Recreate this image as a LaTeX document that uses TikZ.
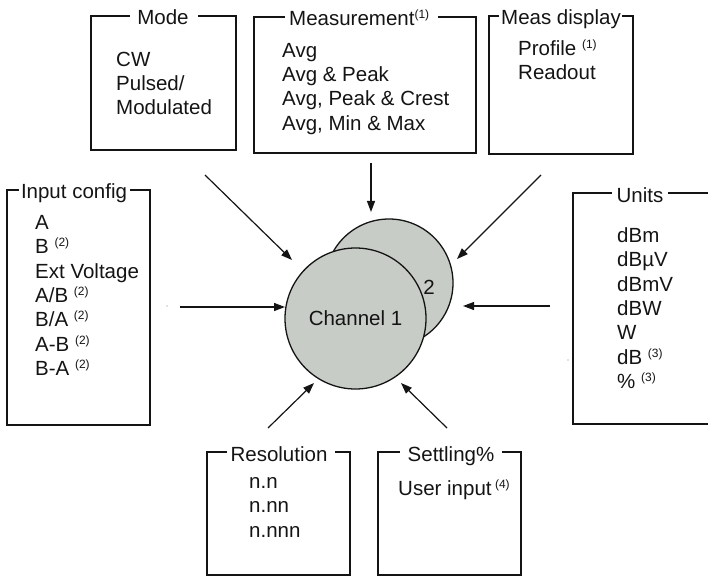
\documentclass[tikz,border=0pt]{standalone}
\usepackage{fontspec}
\setmainfont{Liberation Sans}
\usetikzlibrary{arrows.meta}
\definecolor{chfill}{RGB}{200,204,198}
\definecolor{ink}{RGB}{20,20,20}
\newcommand\fnref[1]{\raisebox{7pt}{\fontsize{12}{12}\selectfont(#1)}}
\newcommand\firstline{\rule{0pt}{20pt}}
\begin{document}
\begin{tikzpicture}[x=1pt,y=-1pt,
  frame/.style={draw=ink, line width=1.4pt, line join=miter},
  ttl/.style={font=\fontsize{20.5}{24}\selectfont, text=ink, inner sep=0pt, anchor=base},
  body/.style={font=\fontsize{20.5}{24.4}\selectfont, text=ink, inner sep=0pt, anchor=north west, align=left},
  arr/.style={draw=ink, line width=1.2pt, -{Triangle[length=11pt,width=8pt]}},
  chan/.style={circle, draw=ink, line width=1.3pt, fill=chfill, inner sep=0pt, font=\fontsize{20.5}{24}\selectfont, text=ink}
]
\useasboundingbox (0,0) rectangle (708,577);

% channel circles
\node[chan, minimum size=128pt] (ch2) at (389,283) {};
\node[chan, minimum size=141pt] (ch1) at (355.5,318.5) {Channel 1};
\node[ttl, anchor=center] (two) at (429,287) {2};

% Mode
\draw[frame] (130,16) -- (91,16) -- (91,150) -- (236,150) -- (236,16) -- (198,16);
\node[ttl] (tmode) at (163,25) {Mode};
\node[body] (bmode) at (116,46) {\firstline CW\\Pulsed/\\Modulated};

% Measurement
\draw[frame] (285,17) -- (254,17) -- (254,153) -- (476,153) -- (476,17) -- (438,17);
\node[ttl, anchor=base west] (tmeas) at (289,26) {Measurement\fnref{1}};
\node[body] (bmeas) at (282,37) {\firstline Avg\\Avg \& Peak\\Avg, Peak \& Crest\\Avg, Min \& Max};

% Meas display
\draw[frame] (499,16) -- (489,16) -- (489,154) -- (633,154) -- (633,16) -- (622,16);
\node[ttl] (tdisp) at (561,25) {Meas display};
\node[body] (bdisp) at (518,35) {\firstline Profile \fnref{1}\\Readout};

% Input config
\draw[frame] (19,190) -- (7,190) -- (7,425) -- (150,425) -- (150,190) -- (130,190);
\node[ttl] (tin) at (74,199) {Input config};
\node[body] (bin) at (35,209) {\firstline A\\B \fnref{2}\\Ext Voltage\\A/B \fnref{2}\\B/A \fnref{2}\\A-B \fnref{2}\\B-A \fnref{2}};

% Units
\draw[frame] (612,193) -- (573,193) -- (573,424) -- (708,424);
\draw[frame] (668,193) -- (708,193);
\node[ttl] (tunit) at (640,202) {Units};
\node[body] (bunit) at (617,222) {\firstline dBm\\dBµV\\dBmV\\dBW\\W\\dB \fnref{3}\\\% \fnref{3}};

% Resolution
\draw[frame] (227,452) -- (207,452) -- (207,575) -- (350,575) -- (350,452) -- (335,452);
\node[ttl] (tres) at (279,461) {Resolution};
\node[body] (bres) at (249,468) {\firstline n.n\\n.nn\\n.nnn};

% Settling
\draw[frame] (400,452) -- (378,452) -- (378,575) -- (521,575) -- (521,452) -- (502,452);
\node[ttl] (tset) at (451,461) {Settling\%};
\node[body] (bset) at (398,475) {\firstline User input\,\fnref{4}};

% arrows
\coordinate (sMode) at (205,175); \coordinate (eMode) at (292,260);
\coordinate (sMeas) at (371,163); \coordinate (eMeas) at (371,212);
\coordinate (sDisp) at (541,175); \coordinate (eDisp) at (457,259);
\coordinate (sIn) at (180,307);   \coordinate (eIn) at (285,307);
\coordinate (sUnit) at (550,306); \coordinate (eUnit) at (463,306);
\coordinate (sRes) at (268,428);  \coordinate (eRes) at (314,383);
\coordinate (sSet) at (447,428);  \coordinate (eSet) at (401,383);
\draw[arr] (sMode) -- (eMode);
\draw[arr] (sMeas) -- (eMeas);
\draw[arr] (sDisp) -- (eDisp);
\draw[arr] (sIn) -- (eIn);
\draw[arr] (sUnit) -- (eUnit);
\draw[arr] (sRes) -- (eRes);
\draw[arr] (sSet) -- (eSet);

% stray dots
\fill[gray] (167,306) circle (0.7pt);
\fill[gray] (568,360) circle (0.7pt);
\end{tikzpicture}
\end{document}
